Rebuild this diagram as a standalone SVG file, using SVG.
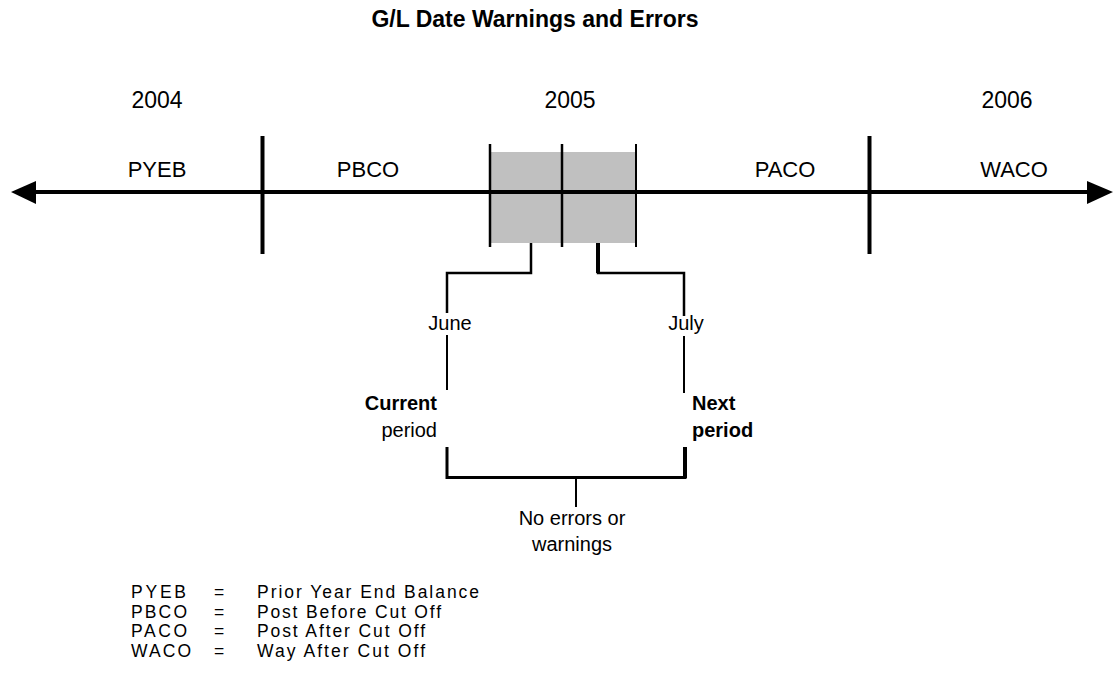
<svg xmlns="http://www.w3.org/2000/svg" width="1114" height="681" viewBox="0 0 1114 681">
<style>
text{font-family:"Liberation Sans",Arial,sans-serif;fill:#000}
.title{font-size:23px;font-weight:bold;text-anchor:middle}
.yr{font-size:23px;text-anchor:middle}
.per{font-size:22px;text-anchor:middle}
.lbl{font-size:20px}
.b{font-weight:bold}
.leg{font-size:17.5px}
.ln{stroke:#000;fill:none}
</style>
<rect width="1114" height="681" fill="#fff"/>
<text class="title" x="535" y="27">G/L Date Warnings and Errors</text>
<g id="years">
<text class="yr" x="157" y="108">2004</text>
<text class="yr" x="570" y="108">2005</text>
<text class="yr" x="1007" y="108">2006</text>
</g>
<g id="timeline">
<line class="ln" x1="34" y1="192" x2="1089" y2="192" stroke-width="4"/>
<polygon points="11,192 36,181 36,204" fill="#000"/>
<polygon points="1113,192 1087,181 1087,204" fill="#000"/>
<line class="ln" x1="262.5" y1="136" x2="262.5" y2="254" stroke-width="4"/>
<line class="ln" x1="869.5" y1="136" x2="869.5" y2="254" stroke-width="4"/>
</g>
<g id="periods">
<text class="per" x="157" y="177">PYEB</text>
<text class="per" x="368" y="177">PBCO</text>
<text class="per" x="785" y="177">PACO</text>
<text class="per" x="1014" y="177">WACO</text>
</g>
<g id="window">
<rect x="490" y="152" width="146" height="91" fill="#c0c0c0"/>
<line class="ln" x1="488" y1="192" x2="638" y2="192" stroke-width="4"/>
<line class="ln" x1="490" y1="144" x2="490" y2="247" stroke-width="2.5"/>
<line class="ln" x1="562" y1="144" x2="562" y2="247" stroke-width="2.5"/>
<line class="ln" x1="636" y1="144" x2="636" y2="247" stroke-width="2"/>
</g>
<g id="connectors">
<polyline class="ln" points="531,243 531,273 447,273 447,313" stroke-width="2.5"/>
<line class="ln" x1="447" y1="335" x2="447" y2="390" stroke-width="2"/>
<polyline class="ln" points="598,243 598,273 684,273 684,316" stroke-width="2.5"/>
<line class="ln" x1="598" y1="243" x2="598" y2="273" stroke-width="4"/>
<line class="ln" x1="684" y1="336" x2="684" y2="393" stroke-width="2"/>
<polyline class="ln" points="447,447 447,477.5 685,477.5 685,447" stroke-width="3"/>
<line class="ln" x1="685" y1="447" x2="685" y2="478" stroke-width="4"/>
<line class="ln" x1="576" y1="478" x2="576" y2="507" stroke-width="2"/>
</g>
<g id="labels">
<text class="lbl" x="450" y="330" text-anchor="middle">June</text>
<text class="lbl" x="686" y="330" text-anchor="middle">July</text>
<text class="lbl b" x="437" y="410" text-anchor="end">Current</text>
<text class="lbl" x="437" y="437" text-anchor="end">period</text>
<text class="lbl b" x="692" y="410">Next</text>
<text class="lbl b" x="692" y="437">period</text>
<text class="lbl" x="572" y="525" text-anchor="middle">No errors or</text>
<text class="lbl" x="572" y="551" text-anchor="middle">warnings</text>
</g>
<g id="legend">
<text class="leg" x="131" y="598" textLength="55">PYEB</text>
<text class="leg" x="214" y="598">=</text>
<text class="leg" x="257" y="598" textLength="222">Prior Year End Balance</text>
<text class="leg" x="131" y="618" textLength="56">PBCO</text>
<text class="leg" x="214" y="618">=</text>
<text class="leg" x="257" y="618" textLength="184">Post Before Cut Off</text>
<text class="leg" x="131" y="637" textLength="56">PACO</text>
<text class="leg" x="214" y="637">=</text>
<text class="leg" x="257" y="637" textLength="168">Post After Cut Off</text>
<text class="leg" x="131" y="657" textLength="60">WACO</text>
<text class="leg" x="214" y="657">=</text>
<text class="leg" x="257" y="657" textLength="168">Way After Cut Off</text>
</g>
</svg>
